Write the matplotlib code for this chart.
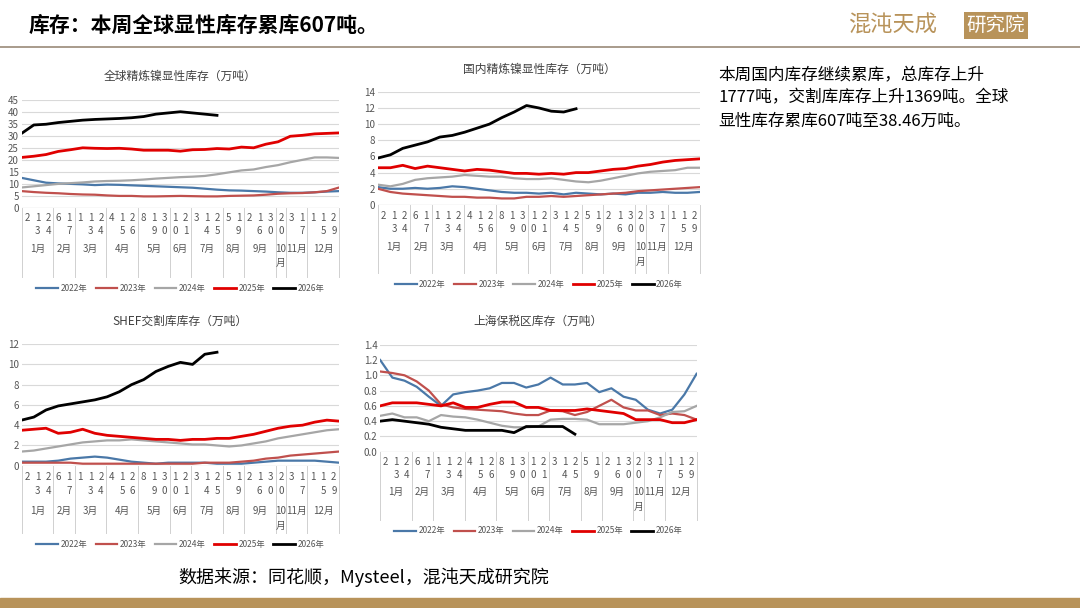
import matplotlib.pyplot as plt
from matplotlib.lines import Line2D
import numpy as np

plt.rcParams['font.family'] = ['Noto Sans CJK SC', 'DejaVu Sans']

YEARS = ['2022年', '2023年', '2024年', '2025年', '2026年']
COLORS = ['#4a78a8', '#c0504d', '#a6a6a6', '#e00000', '#000000']
WIDTHS = [1.6, 1.6, 1.6, 2.0, 2.0]

# day-of-month tick labels grouped by month
MONTHS = ['1月', '2月', '3月', '4月', '5月', '6月', '7月', '8月', '9月', '10\n月', '11月', '12月']
DAYS = [[2, 13, 24], [6, 17], [1, 13, 24], [4, 15, 26], [8, 19, 30], [10, 21],
        [3, 14, 25], [5, 19], [2, 16, 30], [20], [3, 17], [1, 15, 29]]

# biweekly readings (27 points per full year, 2026 partial)
glob = [
    [12.5, 11.5, 10.5, 10.2, 10, 9.8, 9.5, 9.7, 9.6, 9.4, 9.2, 9, 8.8, 8.6, 8.4, 8, 7.6, 7.3, 7.2, 7, 6.8, 6.5, 6.3, 6.3, 6.5, 6.8, 7],
    [7, 6.6, 6.3, 6.1, 5.8, 5.6, 5.5, 5.2, 5, 5, 4.8, 4.8, 4.9, 5, 4.9, 4.8, 4.8, 5, 5.1, 5.2, 5.5, 5.9, 6.1, 6.2, 6.5, 7, 8.5],
    [8.5, 9, 9.5, 10, 10.3, 10.6, 11, 11.2, 11.3, 11.5, 11.8, 12.2, 12.5, 12.8, 13, 13.3, 14, 14.8, 15.6, 16, 17, 17.8, 19, 20, 21, 21, 20.8],
    [21, 21.5, 22.2, 23.5, 24.2, 25, 24.8, 24.7, 24.8, 24.5, 24, 24, 24, 23.6, 24.2, 24.3, 24.7, 24.5, 25.3, 25, 26.5, 27.5, 29.8, 30.2, 30.8, 31, 31.2],
    [31, 34.5, 34.8, 35.5, 36, 36.5, 36.8, 37, 37.2, 37.5, 38, 39, 39.5, 40, 39.5, 39, 38.5],
]
dom = [
    [2.2, 2, 2, 2.1, 2, 2.1, 2.3, 2.2, 2, 1.8, 1.6, 1.5, 1.5, 1.4, 1.5, 1.3, 1.5, 1.4, 1.3, 1.4, 1.3, 1.5, 1.5, 1.6, 1.5, 1.5, 1.6],
    [2, 1.6, 1.4, 1.3, 1.2, 1.1, 1, 1, 0.9, 0.9, 0.8, 0.8, 1, 1, 1.1, 1, 1.1, 1.2, 1.3, 1.4, 1.5, 1.7, 1.8, 1.9, 2, 2.1, 2.2],
    [2.5, 2.3, 2.6, 3.1, 3.3, 3.4, 3.5, 3.7, 3.6, 3.5, 3.5, 3.3, 3.2, 3.2, 3.3, 3.1, 2.9, 2.8, 3, 3.3, 3.6, 3.9, 4.1, 4.2, 4.3, 4.6, 4.6],
    [4.6, 4.6, 4.9, 4.5, 4.8, 4.6, 4.4, 4.2, 4.4, 4.3, 4.1, 3.9, 3.9, 3.8, 3.9, 3.8, 4, 4, 4.2, 4.4, 4.5, 4.8, 5, 5.3, 5.5, 5.6, 5.7],
    [5.8, 6.2, 7, 7.4, 7.8, 8.4, 8.6, 9, 9.5, 10, 10.8, 11.5, 12.3, 12, 11.6, 11.5, 11.9],
]
shfe = [
    [0.4, 0.4, 0.4, 0.5, 0.7, 0.8, 0.9, 0.8, 0.6, 0.4, 0.3, 0.2, 0.3, 0.3, 0.3, 0.3, 0.2, 0.2, 0.2, 0.3, 0.4, 0.5, 0.5, 0.5, 0.5, 0.4, 0.3],
    [0.3, 0.3, 0.3, 0.3, 0.3, 0.2, 0.2, 0.2, 0.2, 0.2, 0.2, 0.2, 0.2, 0.2, 0.2, 0.3, 0.3, 0.3, 0.4, 0.5, 0.7, 0.8, 1, 1.1, 1.2, 1.3, 1.4],
    [1.4, 1.5, 1.7, 1.9, 2.1, 2.3, 2.4, 2.5, 2.5, 2.6, 2.5, 2.4, 2.3, 2.2, 2.1, 2.1, 2, 1.9, 2, 2.2, 2.4, 2.7, 2.9, 3.1, 3.3, 3.5, 3.6],
    [3.5, 3.6, 3.7, 3.2, 3.3, 3.6, 3.2, 3, 2.9, 2.8, 2.7, 2.6, 2.6, 2.5, 2.6, 2.6, 2.7, 2.7, 2.9, 3.1, 3.4, 3.7, 3.9, 4, 4.3, 4.5, 4.4],
    [4.5, 4.8, 5.5, 5.9, 6.1, 6.3, 6.5, 6.8, 7.3, 8, 8.5, 9.3, 9.8, 10.2, 10, 11, 11.2],
]
bond = [
    [1.2, 0.97, 0.93, 0.85, 0.72, 0.6, 0.75, 0.78, 0.8, 0.83, 0.9, 0.9, 0.84, 0.88, 0.97, 0.88, 0.88, 0.9, 0.78, 0.83, 0.72, 0.68, 0.55, 0.5, 0.55, 0.75, 1.02],
    [1.05, 1.03, 1.0, 0.92, 0.8, 0.62, 0.58, 0.56, 0.55, 0.54, 0.53, 0.5, 0.48, 0.48, 0.54, 0.53, 0.48, 0.52, 0.6, 0.68, 0.58, 0.54, 0.54, 0.48, 0.5, 0.48, 0.42],
    [0.47, 0.5, 0.45, 0.45, 0.4, 0.48, 0.46, 0.45, 0.42, 0.38, 0.34, 0.32, 0.32, 0.33, 0.42, 0.43, 0.43, 0.42, 0.36, 0.36, 0.36, 0.38, 0.4, 0.45, 0.52, 0.53, 0.6],
    [0.6, 0.64, 0.64, 0.64, 0.62, 0.6, 0.64, 0.58, 0.58, 0.62, 0.65, 0.65, 0.58, 0.58, 0.54, 0.54, 0.54, 0.56, 0.54, 0.52, 0.5, 0.42, 0.42, 0.42, 0.38, 0.38, 0.42],
    [0.4, 0.42, 0.4, 0.38, 0.36, 0.32, 0.3, 0.28, 0.28, 0.28, 0.28, 0.25, 0.33, 0.33, 0.33, 0.33, 0.23],
]

fig = plt.figure(figsize=(10.8, 6.08), dpi=100)
fig.patch.set_facecolor('white')

GOLD = '#b8935a'
fig.text(0.026, 0.958, '库存：本周全球显性库存累库607吨。', fontsize=15, fontweight='bold', va='center')
fig.add_artist(Line2D([0, 1], [0.922, 0.922], color='#9a8a78', lw=1.2))
fig.text(0.785, 0.958, '混沌天成', fontsize=16, color=GOLD, va='center')
fig.text(0.895, 0.958, '研究院', fontsize=14, color='white', va='center',
         bbox=dict(boxstyle='square,pad=0.15', fc=GOLD, ec='none'))
fig.add_artist(plt.Rectangle((0, 0), 1, 0.016, transform=fig.transFigure, color=GOLD))
fig.text(0.165, 0.05, '数据来源：同花顺，Mysteel，混沌天成研究院', fontsize=13, va='center')
fig.text(0.665, 0.89, '本周国内库存继续累库，总库存上升\n1777吨，交割库库存上升1369吨。全球\n显性库存累库607吨至38.46万吨。',
         fontsize=12, va='top', linespacing=1.45)


def panel(rect, title, series, ylim, step, fmt, leg_y):
    ax = fig.add_axes(rect)
    x_full = np.arange(27) * 2
    for vals, c, w, lab in zip(series, COLORS, WIDTHS, YEARS):
        ax.plot(x_full[:len(vals)], vals, color=c, lw=w, label=lab)
    ax.set_xlim(0, 52)
    ax.set_ylim(*ylim)
    ax.set_yticks(np.arange(ylim[0], ylim[1] + step / 2, step))
    ax.set_yticklabels([fmt.format(v) for v in ax.get_yticks()], fontsize=7, color='#555555')
    ax.set_xticks([])
    ax.grid(axis='y', color='#d9d9d9', lw=0.8)
    for s in ax.spines.values():
        s.set_visible(False)
    ax.axhline(ylim[0], color='#bfbfbf', lw=0.8)
    ax.tick_params(axis='y', length=0, pad=2)
    ax.set_title(title, fontsize=8.5, color='#404040', pad=14)
    tr = ax.transAxes
    n = sum(len(d) for d in DAYS)
    k = 0
    sep = -(leg_y - 0.1)
    ax.plot([0, 0], [0, sep], transform=tr, color='#d0d0d0', lw=0.7, clip_on=False)
    for m, days in zip(MONTHS, DAYS):
        start = k
        for d in days:
            xf = (k + 0.5) / n
            s = str(d)
            ax.text(xf, -0.05, s[0], transform=tr, ha='center', va='top', fontsize=7, color='#555555')
            if len(s) > 1:
                ax.text(xf, -0.17, s[1], transform=tr, ha='center', va='top', fontsize=7, color='#555555')
            k += 1
        ax.text((start + k) / 2 / n, -0.33, m, transform=tr, ha='center', va='top', fontsize=7,
                color='#555555', linespacing=1.6)
        ax.plot([k / n, k / n], [0, sep], transform=tr, color='#d0d0d0', lw=0.7, clip_on=False)
    ax.legend(loc='center', bbox_to_anchor=(0.5, -leg_y), ncol=5, frameon=False,
              fontsize=6, handlelength=2.6, columnspacing=1.0, handletextpad=0.3,
              labelcolor='#555555')
    return ax


panel([0.02, 0.658, 0.294, 0.178], '全球精炼镍显性库存（万吨）', glob, (0, 45), 5, '{:.0f}', 0.74)
panel([0.35, 0.663, 0.298, 0.186], '国内精炼镍显性库存（万吨）', dom, (0, 14), 2, '{:.0f}', 0.70)
panel([0.02, 0.234, 0.294, 0.2], 'SHEF交割库库存（万吨）', shfe, (0, 12), 2, '{:.0f}', 0.65)
panel([0.352, 0.257, 0.293, 0.176], '上海保税区库存（万吨）', bond, (0, 1.4), 0.2, '{:.1f}', 0.74)

fig.savefig('out.png', dpi=100, facecolor='white')
